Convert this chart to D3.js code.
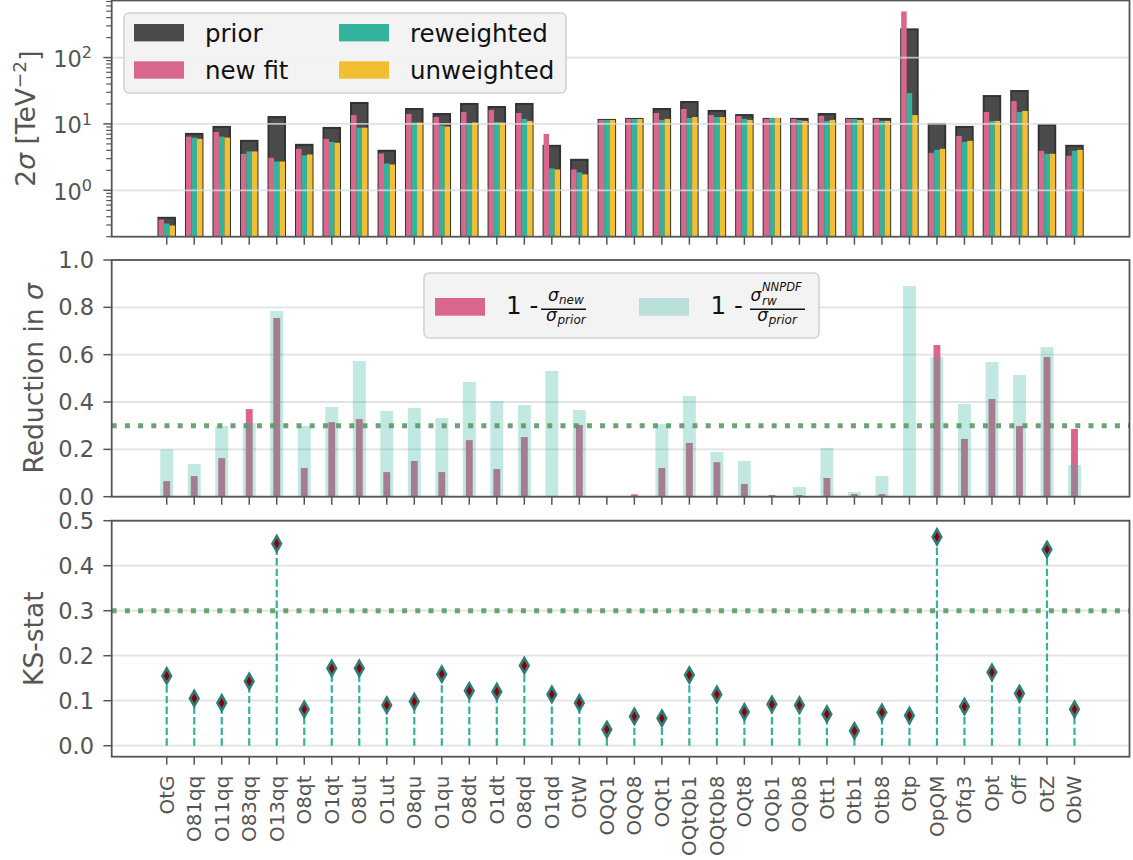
<!DOCTYPE html>
<html><head><meta charset="utf-8">
<script src="https://cdn.jsdelivr.net/npm/d3@7"></script>
<style>
html,body{margin:0;padding:0;background:#fff;}
svg text{font-family:"DejaVu Sans",sans-serif;}
</style></head>
<body>
<svg id="chart" width="1133" height="860"></svg>
<script>
const categories = ["OtG","O81qq","O11qq","O83qq","O13qq","O8qt","O1qt","O8ut","O1ut","O8qu","O1qu","O8dt","O1dt","O8qd","O1qd","OtW","OQQ1","OQQ8","OQt1","OQtQb1","OQtQb8","OQt8","OQb1","OQb8","Ott1","Otb1","Otb8","Otp","OpQM","Ofq3","Opt","Off","OtZ","ObW"];
const prior      = [0.385,7.08,9.02,5.56,12.7,4.84,8.71,20.7,3.94,16.8,14.1,20.0,18.0,20.0,4.68,2.88,11.5,11.9,16.8,21.4,15.7,13.6,11.9,11.9,14.1,11.9,11.9,266,10.0,9.02,26.3,31.3,9.66,4.68];
const newFit     = [0.363,6.45,7.59,3.55,3.09,4.22,5.96,13.6,3.59,14.1,12.7,15.1,16.2,14.6,7.08,2.06,11.5,11.9,14.6,16.8,13.6,13.2,11.9,11.9,13.2,11.9,11.9,495,3.67,6.61,15.1,22.1,3.94,3.31];
const reweighted = [0.316,6.23,6.45,3.85,2.72,3.35,5.37,8.79,2.54,10.5,9.44,10.0,10.7,11.9,2.14,1.86,11.5,11.9,11.5,12.3,12.7,11.9,12.3,11.5,11.1,11.9,11.1,29.2,4.07,5.37,11.1,15.1,3.55,3.94];
const unweighted = [0.295,5.96,6.23,3.85,2.72,3.47,5.19,8.79,2.45,10.5,9.12,10.5,10.5,11.1,2.06,1.74,11.5,11.9,11.9,12.7,12.7,11.5,12.3,11.1,11.5,11.5,11.1,13.6,4.22,5.56,11.1,15.7,3.55,4.07];
const reductionNew = [0.066,0.087,0.163,0.370,0.755,0.121,0.315,0.328,0.104,0.151,0.104,0.239,0.117,0.252,0,0.303,0,0.010,0.121,0.227,0.146,0.054,0.007,0.007,0.079,0.011,0.011,0,0.641,0.244,0.413,0.299,0.590,0.286];
const reductionRw  = [0.200,0.138,0.299,0.311,0.785,0.299,0.379,0.573,0.362,0.375,0.332,0.485,0.404,0.387,0.531,0.366,0,0.004,0.307,0.425,0.189,0.151,0,0.041,0.206,0.020,0.087,0.890,0.590,0.392,0.569,0.514,0.632,0.134];
const ksStat = [0.155,0.105,0.095,0.143,0.449,0.081,0.172,0.172,0.090,0.098,0.159,0.122,0.120,0.178,0.114,0.095,0.036,0.065,0.061,0.157,0.114,0.075,0.092,0.090,0.070,0.033,0.074,0.067,0.464,0.087,0.163,0.116,0.436,0.081];
const ksThreshold = 0.3;
const reductionThreshold = 0.3;
const topTicks = [1,10,100];
const midTicks = [0,0.2,0.4,0.6,0.8,1.0];
const botTicks = [0,0.1,0.2,0.3,0.4,0.5];

const C = {prior:"#4a4a4a", nf:"#d9668c", rw:"#33b39b", uw:"#f2be32", grid:"#dcdcdc", axis:"#555555", thr:"#5b9a68", ksEdge:"#2e7d7b", ksFace:"#8b0000"};
const FS = {ytick:22.5, ysup:16, xtick:20, ylabel:26.5, legend:24.5};

const svg = d3.select("#chart");
const L = 111.7, R = 1129.5;
const x = d3.scaleLinear().domain([-2, 35]).range([L, R]);
const step = x(1) - x(0);
const P = {top:[0.5,236.7], mid:[260,496.7], bot:[520.7,756.7]};

const yTop = d3.scaleLog().domain([0.2, 724]).range([P.top[1], P.top[0]]);
const yMid = d3.scaleLinear().domain([0, 1]).range([P.mid[1], P.mid[0]]);
const yBot = d3.scaleLinear().domain([-0.0244, 0.5]).range([P.bot[1], P.bot[0]]);

const idx = d3.range(categories.length);

const defs = svg.append("defs");
Object.entries(P).forEach(([k,v])=>{
  defs.append("clipPath").attr("id","clip-"+k).append("rect")
    .attr("x",L).attr("y",v[0]).attr("width",R-L).attr("height",v[1]-v[0]);
});

function gridLines(g, scale, ticks){
  g.selectAll("line.grid").data(ticks).join("line").attr("class","grid")
    .attr("x1",L).attr("x2",R).attr("y1",d=>scale(d)).attr("y2",d=>scale(d))
    .attr("stroke",C.grid).attr("stroke-width",1.8).attr("opacity",0.8);
}
function frame(g, p){
  g.append("rect").attr("x",L).attr("y",p[0]).attr("width",R-L).attr("height",p[1]-p[0])
    .attr("fill","none").attr("stroke",C.axis).attr("stroke-width",1.8);
  g.selectAll("line.xt").data(idx).join("line").attr("class","xt")
    .attr("x1",d=>x(d)).attr("x2",d=>x(d)).attr("y1",p[1]).attr("y2",p[1]+8)
    .attr("stroke",C.axis).attr("stroke-width",1.5);
}
function yTicks(g, scale, ticks, fmt){
  g.selectAll("line.yt").data(ticks).join("line").attr("class","yt")
    .attr("x1",L-8.3).attr("x2",L).attr("y1",d=>scale(d)).attr("y2",d=>scale(d))
    .attr("stroke",C.axis).attr("stroke-width",1.5);
  g.selectAll("text.yl").data(ticks).join("text").attr("class","yl")
    .attr("x",94).attr("y",d=>scale(d)).attr("dy","0.36em")
    .attr("text-anchor","end").attr("fill",C.axis).attr("font-size",FS.ytick)
    .text(fmt);
}

// ---------- TOP PANEL ----------
const gT = svg.append("g");
const gTbars = gT.append("g").attr("clip-path","url(#clip-top)");
gTbars.selectAll("rect.prior").data(idx).join("rect")
  .attr("x",d=>x(d)-0.3*step).attr("width",0.6*step)
  .attr("y",d=>yTop(prior[d])).attr("height",d=>yTop(0.2)-yTop(prior[d]))
  .attr("fill",C.prior).attr("stroke","#333").attr("stroke-width",2);
[[newFit,C.nf,-0.2],[reweighted,C.rw,0],[unweighted,C.uw,0.2]].forEach(([arr,col,off])=>{
  gTbars.selectAll(null).data(idx).join("rect")
    .attr("x",d=>x(d+off)-0.1*step).attr("width",0.2*step)
    .attr("y",d=>yTop(arr[d])).attr("height",d=>yTop(0.2)-yTop(arr[d]))
    .attr("fill",col);
});
gridLines(gT, yTop, topTicks);
const minor = [];
[0.1,1,10,100].forEach(b=>{for(let m=2;m<=9;m++){const v=b*m; if(v>=0.2 && v<=724) minor.push(v);}});
gT.selectAll("line.mt").data(minor).join("line")
  .attr("x1",L-5.5).attr("x2",L).attr("y1",d=>yTop(d)).attr("y2",d=>yTop(d))
  .attr("stroke",C.axis).attr("stroke-width",1.2);
gT.selectAll("line.yt").data(topTicks).join("line").attr("class","yt")
  .attr("x1",L-8.3).attr("x2",L).attr("y1",d=>yTop(d)).attr("y2",d=>yTop(d))
  .attr("stroke",C.axis).attr("stroke-width",1.5);
const tl = gT.selectAll("text.yl").data(topTicks).join("text").attr("class","yl")
  .attr("x",92).attr("y",d=>yTop(d)).attr("dy","0.42em")
  .attr("text-anchor","end").attr("fill",C.axis).attr("font-size",FS.ytick);
tl.append("tspan").text("10");
tl.append("tspan").attr("dy","-0.55em").attr("font-size",FS.ysup).text(d=>Math.round(Math.log10(d)));
frame(gT, P.top);

const lgT = gT.append("g");
lgT.append("rect").attr("x",124).attr("y",13).attr("width",442).attr("height",80).attr("rx",5)
  .attr("fill","#f2f2f2").attr("fill-opacity",0.92).attr("stroke","#d2d2d2").attr("stroke-width",1.6);
const legItems = [["prior",C.prior,134,24],["new fit",C.nf,134,61.3],["reweighted",C.rw,339,24],["unweighted",C.uw,339,61.3]];
legItems.forEach(([t,c,lx,ly])=>{
  lgT.append("rect").attr("x",lx).attr("y",ly).attr("width",50).attr("height",17.4).attr("fill",c);
  lgT.append("text").attr("x",lx+71).attr("y",ly+18).attr("font-size",FS.legend).attr("fill","#111").text(t);
});

const ylT = svg.append("text").attr("transform",`translate(35,${(P.top[0]+P.top[1])/2}) rotate(-90)`)
  .attr("text-anchor","middle").attr("fill",C.axis).attr("font-size",FS.ylabel);
ylT.append("tspan").text("2");
ylT.append("tspan").attr("font-style","italic").text("σ");
ylT.append("tspan").text(" [TeV");
ylT.append("tspan").attr("dy","-0.5em").attr("font-size",18.5).text("−2");
ylT.append("tspan").attr("dy","0.5em").text("]");

// ---------- MIDDLE PANEL ----------
const gM = svg.append("g");
gridLines(gM, yMid, midTicks);
const gMbars = gM.append("g").attr("clip-path","url(#clip-mid)");
gMbars.selectAll("rect.nf").data(idx).join("rect")
  .attr("x",d=>x(d)-0.125*step).attr("width",0.25*step)
  .attr("y",d=>yMid(Math.max(0,reductionNew[d]))).attr("height",d=>yMid(0)-yMid(Math.max(0,reductionNew[d])))
  .attr("fill",C.nf);
gMbars.selectAll("rect.rw").data(idx).join("rect")
  .attr("x",d=>x(d)-0.235*step).attr("width",0.47*step)
  .attr("y",d=>yMid(Math.max(0,reductionRw[d]))).attr("height",d=>yMid(0)-yMid(Math.max(0,reductionRw[d])))
  .attr("fill",C.rw).attr("fill-opacity",0.3);
gM.append("line").attr("x1",L).attr("x2",R).attr("y1",yMid(reductionThreshold)).attr("y2",yMid(reductionThreshold))
  .attr("stroke",C.thr).attr("stroke-width",5).attr("stroke-dasharray","5 8.2").attr("opacity",0.9);
yTicks(gM, yMid, midTicks, d=>d.toFixed(1));
frame(gM, P.mid);

const lgM = gM.append("g");
lgM.append("rect").attr("x",424).attr("y",273).attr("width",395).attr("height",65).attr("rx",5)
  .attr("fill","#f2f2f2").attr("fill-opacity",0.92).attr("stroke","#d2d2d2").attr("stroke-width",1.6);
lgM.append("rect").attr("x",435).attr("y",298).attr("width",50).attr("height",17.7).attr("fill",C.nf);
lgM.append("rect").attr("x",639).attr("y",298).attr("width",50).attr("height",17.7).attr("fill",C.rw).attr("fill-opacity",0.3);
function lt(xp,yp,str,size,italic){
  return lgM.append("text").attr("x",xp).attr("y",yp).attr("font-size",size).attr("fill","#111")
    .attr("font-style",italic?"italic":"normal").text(str);
}
lt(506,314,"1 -",FS.legend,false);
lt(548,301,"σ",17,true);
lt(559,304,"new",12,true);
lgM.append("line").attr("x1",541).attr("x2",586).attr("y1",309.3).attr("y2",309.3).attr("stroke","#111").attr("stroke-width",1.4);
lt(546,321,"σ",17,true);
lt(557.5,324,"prior",12,true);
lt(710.5,314,"1 -",FS.legend,false);
lt(750.5,300.5,"σ",17,true);
lt(762,290.5,"NNPDF",11.5,true);
lt(762,305,"rw",12,true);
lgM.append("line").attr("x1",750).attr("x2",805).attr("y1",309.3).attr("y2",309.3).attr("stroke","#111").attr("stroke-width",1.4);
lt(757.3,321,"σ",17,true);
lt(768.7,324,"prior",12,true);

const ylM = svg.append("text").attr("transform",`translate(43,${(P.mid[0]+P.mid[1])/2}) rotate(-90)`)
  .attr("text-anchor","middle").attr("fill",C.axis).attr("font-size",FS.ylabel);
ylM.append("tspan").text("Reduction in ");
ylM.append("tspan").attr("font-style","italic").text("σ");

// ---------- BOTTOM PANEL ----------
const gB = svg.append("g");
gridLines(gB, yBot, botTicks);
gB.append("line").attr("x1",L).attr("x2",R).attr("y1",yBot(ksThreshold)).attr("y2",yBot(ksThreshold))
  .attr("stroke",C.thr).attr("stroke-width",5).attr("stroke-dasharray","5 8.2").attr("opacity",0.9);
gB.selectAll("line.stem").data(idx).join("line")
  .attr("x1",d=>x(d)).attr("x2",d=>x(d)).attr("y1",yBot(0)).attr("y2",d=>yBot(ksStat[d]))
  .attr("stroke",C.rw).attr("stroke-width",2.2).attr("stroke-dasharray","7.4 3.2");
gB.selectAll("path.mk").data(idx).join("path")
  .attr("transform",d=>`translate(${x(d)},${yBot(ksStat[d])})`)
  .attr("d","M0,-7.5L4.3,0L0,7.5L-4.3,0Z")
  .attr("fill",C.ksFace).attr("stroke",C.ksEdge).attr("stroke-width",2.6).attr("stroke-linejoin","miter");
yTicks(gB, yBot, botTicks, d=>d.toFixed(1));
frame(gB, P.bot);

svg.append("text").attr("transform",`translate(43,${(P.bot[0]+P.bot[1])/2}) rotate(-90)`)
  .attr("text-anchor","middle").attr("fill",C.axis).attr("font-size",FS.ylabel).text("KS-stat");

svg.selectAll("text.xl").data(idx).join("text").attr("class","xl")
  .attr("transform",d=>`translate(${x(d)+7},775.5) rotate(-90)`)
  .attr("text-anchor","end").attr("fill",C.axis).attr("font-size",FS.xtick)
  .text(d=>categories[d]);
</script>
</body></html>
